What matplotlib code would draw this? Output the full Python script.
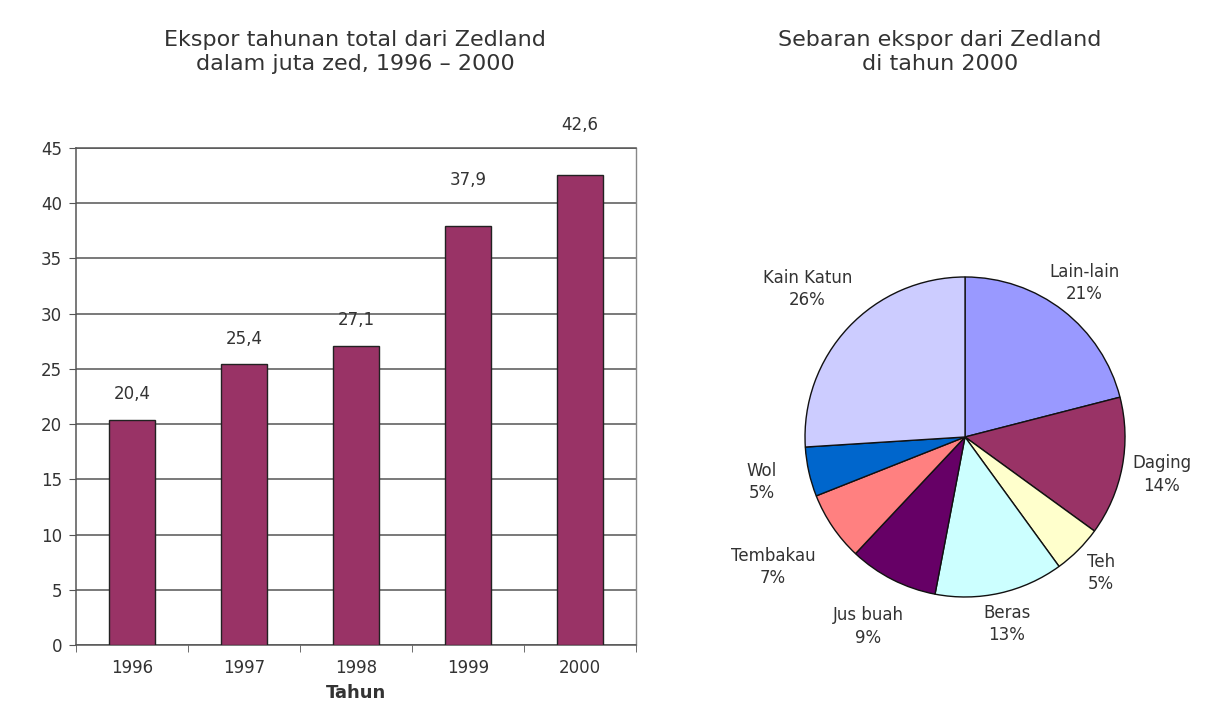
import matplotlib
matplotlib.use("Agg")
import matplotlib.pyplot as plt
import numpy as np

plt.rcParams['font.family'] = ['DejaVu Sans']

# data
tahun = ['1996', '1997', '1998', '1999', '2000']
ekspor = [20.4, 25.4, 27.1, 37.9, 42.6]
label_offsets = [12, 12, 12, 27, 29]   # points above each bar, as in the original

komoditas = ['Lain-lain', 'Daging', 'Teh', 'Beras', 'Jus buah',
             'Tembakau', 'Wol', 'Kain Katun']
persen = [21, 14, 5, 13, 9, 7, 5, 26]
warna_pie = ['#9999FF', '#993366', '#FFFFCC', '#CCFFFF', '#660066',
             '#FF8080', '#0066CC', '#CCCCFF']
# how far each pie label sits from the centre (in radii)
jarak_label = [1.22, 1.25, 1.2, 1.2, 1.33, 1.45, 1.3, 1.35]

warna_bar = '#993366'
teks = '#333333'

fig = plt.figure(figsize=(12.29, 7.28), dpi=100)

# ---- bar chart ----
ax = fig.add_axes([0.0618, 0.114, 0.4557, 0.6827])
x = np.arange(len(tahun))
bars = ax.bar(x, ekspor, width=0.41, color=warna_bar, edgecolor='#222222',
              linewidth=1.0, zorder=3)
for b, v, off in zip(bars, ekspor, label_offsets):
    ax.annotate(f"{v:.1f}".replace('.', ','),
                (b.get_x() + b.get_width() / 2, v),
                xytext=(0, off), textcoords='offset points',
                ha='center', va='bottom', fontsize=12, color=teks)

ax.set_xlim(-0.5, len(tahun) - 0.5)
ax.set_ylim(0, 45)
ax.set_yticks(range(0, 46, 5))
ax.yaxis.grid(True, color='#555555', linewidth=1.1, zorder=0)
ax.set_xticks(x)
ax.set_xticklabels(tahun)
ax.set_xticks(np.arange(-0.5, len(tahun), 1.0), minor=True)
ax.tick_params(axis='x', which='major', length=0, pad=10,
               labelsize=12, labelcolor=teks)
ax.tick_params(axis='x', which='minor', length=5, color='#555555')
ax.tick_params(axis='y', length=5, color='#555555', labelsize=12,
               labelcolor=teks, pad=5)
for s in ['left', 'bottom', 'top']:
    ax.spines[s].set_color('#555555')
    ax.spines[s].set_linewidth(1.1)
ax.spines['right'].set_color('#888888')
ax.spines['right'].set_linewidth(1.0)
ax.set_xlabel('Tahun', fontsize=13, fontweight='bold', color=teks, labelpad=5)

fig.text(0.289, 0.928, 'Ekspor tahunan total dari Zedland\ndalam juta zed, 1996 – 2000',
         ha='center', va='center', fontsize=16, color=teks, linespacing=1.25)

# ---- pie chart ----
ax2 = fig.add_axes([0.5769, 0.0481, 0.4166, 0.7033])
labels = [f"{k}\n{p}%" for k, p in zip(komoditas, persen)]
wedges, texts = ax2.pie(persen, labels=labels, colors=warna_pie,
                        startangle=90, counterclock=False,
                        labeldistance=1.3,
                        wedgeprops=dict(edgecolor='#111111', linewidth=1.0),
                        textprops=dict(fontsize=12, color=teks))
for w, t, d in zip(wedges, texts, jarak_label):
    ang = np.deg2rad((w.theta1 + w.theta2) / 2)
    t.set_position((d * np.cos(ang), d * np.sin(ang)))
    t.set_ha('center')
    t.set_multialignment('center')
    t.set_linespacing(1.3)
ax2.set_xlim(-1.6, 1.6)
ax2.set_ylim(-1.6, 1.6)
ax2.set_aspect('equal')

fig.text(0.765, 0.928, 'Sebaran ekspor dari Zedland\ndi tahun 2000',
         ha='center', va='center', fontsize=16, color=teks, linespacing=1.25)

fig.savefig('out.png', dpi=100)
